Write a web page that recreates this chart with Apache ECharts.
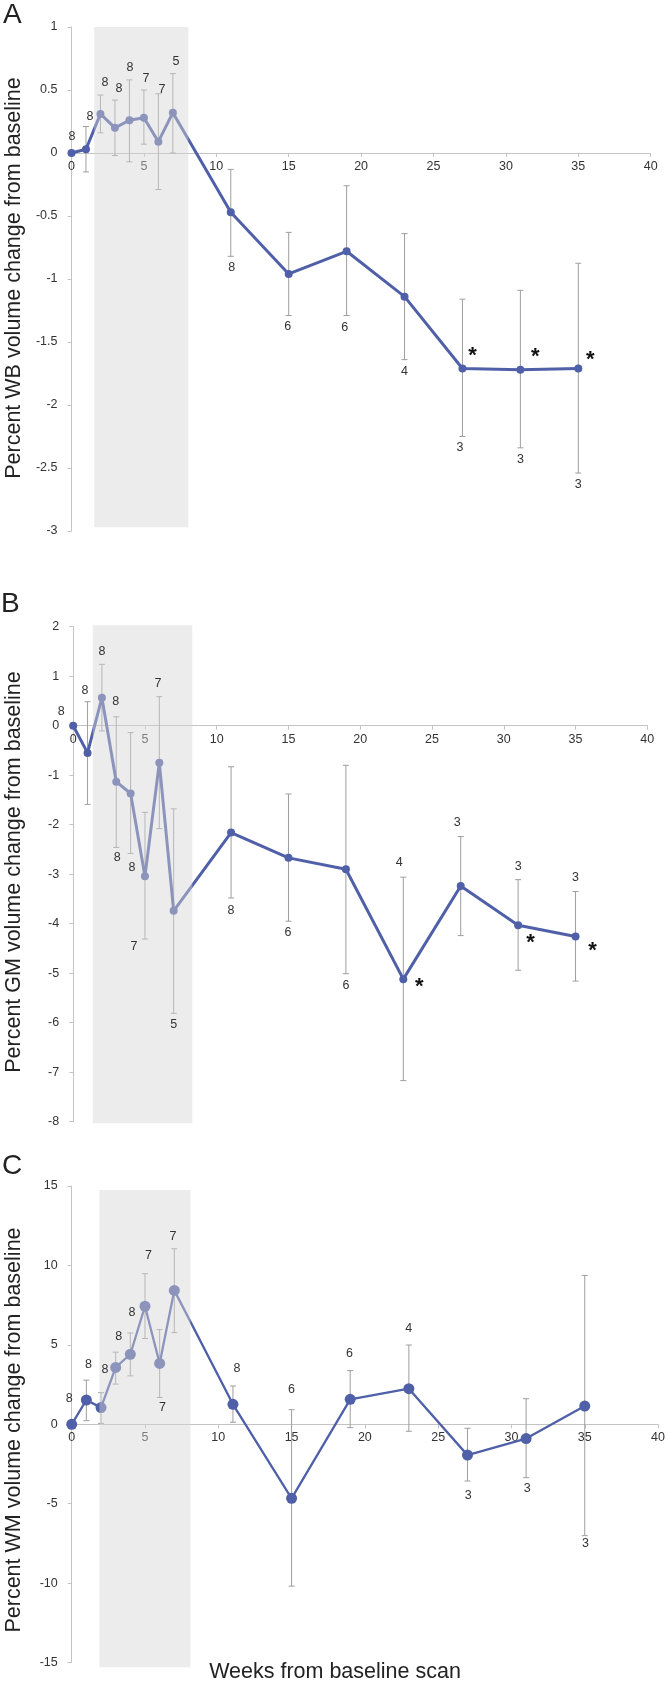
<!DOCTYPE html>
<html><head><meta charset="utf-8">
<script src="https://cdn.jsdelivr.net/npm/echarts@6/dist/echarts.min.js"></script>
<style>html,body{margin:0;padding:0;background:#fff}#c{width:668px;height:1683px}</style>
</head><body><div id="c"></div>
<script>
// ---------------- DATA ----------------
const weeks = [0, 1, 2, 3, 4, 5, 6, 7, 11, 15, 19, 23, 27, 31, 35];
const xTicks = [0, 5, 10, 15, 20, 25, 30, 35, 40];

// Panel A: whole brain
const wbMean  = [0, 0.03, 0.31, 0.20, 0.26, 0.28, 0.09, 0.32, -0.47, -0.96, -0.78, -1.14, -1.71, -1.72, -1.71];
const wbUpper = [null, 0.21, 0.46, 0.42, 0.58, 0.50, 0.47, 0.63, -0.13, -0.63, -0.26, -0.64, -1.16, -1.09, -0.875];
const wbLower = [null, -0.15, 0.16, -0.02, -0.07, 0.07, -0.29, 0.00, -0.82, -1.29, -1.29, -1.64, -2.25, -2.34, -2.54];
const wbN     = [8, 8, 8, 8, 8, 7, 7, 5, 8, 6, 6, 4, 3, 3, 3];
const wbSig   = [27, 31, 35];
const wbYTicks = [-3, -2.5, -2, -1.5, -1, -0.5, 0, 0.5, 1];
const wbShade = [1.57, 8.07, 1, -2.97];

// Panel B: grey matter
const gmMean  = [0, -0.55, 0.566, -1.13, -1.37, -3.04, -0.75, -3.74, -2.16, -2.67, -2.90, -5.12, -3.24, -4.03, -4.26];
const gmUpper = [null, 0.485, 1.24, 0.18, -0.14, -1.75, 0.586, -1.68, -0.83, -1.38, -0.80, -3.06, -2.24, -3.11, -3.35];
const gmLower = [null, -1.59, -0.107, -2.46, -2.58, -4.31, -2.08, -5.81, -3.48, -3.95, -5.01, -7.17, -4.24, -4.94, -5.16];
const gmN     = [8, 8, 8, 8, 8, 7, 7, 5, 8, 6, 6, 4, 3, 3, 3];
const gmSig   = [23, 31, 35];
const gmYTicks = [-8, -7, -6, -5, -4, -3, -2, -1, 0, 1, 2];
const gmShade = [1.37, 8.3, 2.03, -8.03];

// Panel C: white matter
const wmMean  = [0, 1.53, 1.05, 3.58, 4.41, 7.43, 3.83, 8.43, 1.26, -4.66, 1.57, 2.24, -1.94, -0.90, 1.15];
const wmUpper = [null, 2.78, 1.99, 4.54, 5.75, 9.48, 5.96, 11.05, 2.41, 0.92, 3.38, 4.99, -0.25, 1.61, 9.37];
const wmLower = [null, 0.23, 0.06, 2.53, 3.05, 5.40, 1.69, 5.77, 0.13, -10.19, -0.21, -0.44, -3.57, -3.36, -7.01];
const wmN     = [8, 8, 8, 8, 8, 7, 7, 7, 8, 6, 6, 4, 3, 3, 3];
const wmSig   = [];
const wmYTicks = [-15, -10, -5, 0, 5, 10, 15];
const wmShade = [1.89, 8.1, 14.75, -15.3];

const panelLetters = ['A', 'B', 'C'];
const yTitles = ['Percent WB volume change from baseline', 'Percent GM volume change from baseline', 'Percent WM volume change from baseline'];
const xTitle = 'Weeks from baseline scan';

// ---------------- LAYOUT ----------------
const FONT = "'Liberation Sans', Arial, Helvetica, sans-serif";
// label placement: [point index, anchor (p=point, h=upper bar end, l=lower bar end), dx, dy]
const labelsA = [[0,'p',0.5,-16],[1,'h',4,-10],[2,'h',4.5,-12],[3,'h',4,-12],[4,'h',0.6,-12],[5,'h',2,-11],[6,'h',3.6,-4],[7,'h',3,-11.6],
  [8,'l',1,11],[9,'l',-1,11],[10,'l',-2,12],[11,'l',0,11.7],[12,'l',-2.5,11],[13,'l',0,11.7],[14,'l',0,11.3]];
const labelsB = [[0,'p',-12,-14],[1,'h',-2.5,-11],[2,'h',0,-13],[3,'h',-0.5,-15],[3,'l',1,10],[4,'l',1.4,14],[5,'l',-11,8],[6,'h',-1.3,-13.4],[7,'l',0,11],
  [8,'l',0,13],[9,'l',-0.5,11.5],[10,'l',0,12],[11,'h',-4,-14.5],[12,'h',-3.6,-14],[13,'h',0,-13],[14,'h',0,-14]];
const labelsC = [[0,'p',-2.4,-26],[1,'h',2,-16],[2,'h',4,-22.7],[3,'h',3,-15.5],[4,'h',1.7,-20.6],[5,'h',3.4,-17.7],[6,'l',2.7,10],[7,'h',-1.4,-12.7],
  [8,'h',4,-17],[9,'h',0,-20],[10,'h',-0.7,-16.6],[11,'h',0,-16.7],[12,'l',0.7,14.7],[13,'l',1,10.6],[14,'l',0.7,8.3]];
const sigOffA = [[10,-17],[15,-18],[12,-13]];
const sigOffB = [[16,3],[12.5,13],[17,10]];

const panels = [
  {mean: wbMean, upper: wbUpper, lower: wbLower, n: wbN, sig: wbSig, yTicks: wbYTicks, shade: wbShade,
   grid: {left: 71.5, top: 27, width: 579.2, height: 504}, sym: 8, lw: 3, labels: labelsA, sigOff: sigOffA,
   letter: [3, 15.5], title: [14, 278, 21.5]},
  {mean: gmMean, upper: gmUpper, lower: gmLower, n: gmN, sig: gmSig, yTicks: gmYTicks, shade: gmShade,
   grid: {left: 73.2, top: 626.7, width: 574.1, height: 495}, sym: 8, lw: 3, labels: labelsB, sigOff: sigOffB,
   letter: [1, 604.5], title: [14, 872, 21.5]},
  {mean: wmMean, upper: wmUpper, lower: wmLower, n: wmN, sig: wmSig, yTicks: wmYTicks, shade: wmShade,
   grid: {left: 71.7, top: 1186, width: 588, height: 476.6}, sym: 11, lw: 2.3, labels: labelsC, sigOff: [],
   letter: [2, 1166], title: [14, 1430, 21.5]}
];

const LINE = '#5060a8';
const BAR = '#9e9e9e';
const AXIS = '#c4c4c4';
const TXT = '#333';

const grids = [], xAxes = [], yAxes = [], series = [], graphics = [];
panels.forEach((P, k) => {
  grids.push(Object.assign({containLabel: false}, P.grid));
  const yMin = P.yTicks[0], yMax = P.yTicks[P.yTicks.length - 1];
  // place the x axis on the y = 0 line
  const zeroOffset = -P.grid.height * (0 - yMin) / (yMax - yMin);
  xAxes.push({
    gridIndex: k, type: 'value', min: xTicks[0], max: xTicks[xTicks.length - 1], interval: xTicks[1] - xTicks[0],
    position: 'bottom', offset: zeroOffset,
    axisLine: {show: true, onZero: false, lineStyle: {color: AXIS, width: 1}},
    axisTick: {show: true, length: 4, lineStyle: {color: AXIS}},
    axisLabel: {color: TXT, fontSize: 12.5, fontFamily: FONT, margin: 7, showMinLabel: true, showMaxLabel: true},
    splitLine: {show: false}
  });
  yAxes.push({
    gridIndex: k, type: 'value', min: yMin, max: yMax, interval: P.yTicks[1] - P.yTicks[0],
    axisLine: {show: true, onZero: false, lineStyle: {color: AXIS, width: 1}},
    axisTick: {show: true, length: 4, lineStyle: {color: AXIS}},
    axisLabel: {color: TXT, fontSize: 12.5, fontFamily: FONT, margin: 14},
    splitLine: {show: false}
  });

  const bars = [];
  weeks.forEach((w, i) => { if (P.upper[i] !== null) bars.push([w, P.lower[i], P.upper[i]]); });
  series.push({
    type: 'custom', xAxisIndex: k, yAxisIndex: k, z: 1, silent: true, data: bars,
    renderItem: (params, api) => {
      const x = api.value(0);
      const a = api.coord([x, api.value(2)]);
      const b = api.coord([x, api.value(1)]);
      const hw = 3;
      const st = {stroke: BAR, lineWidth: 1};
      return {type: 'group', children: [
        {type: 'line', shape: {x1: a[0], y1: a[1], x2: b[0], y2: b[1]}, style: st},
        {type: 'line', shape: {x1: a[0] - hw, y1: a[1], x2: a[0] + hw, y2: a[1]}, style: st},
        {type: 'line', shape: {x1: b[0] - hw, y1: b[1], x2: b[0] + hw, y2: b[1]}, style: st}
      ]};
    }
  });
  series.push({
    type: 'line', xAxisIndex: k, yAxisIndex: k, z: 2, silent: true,
    data: weeks.map((w, i) => [w, P.mean[i]]),
    symbol: 'circle', symbolSize: P.sym, showSymbol: true,
    lineStyle: {color: LINE, width: P.lw}, itemStyle: {color: LINE, borderWidth: 0}
  });
  series.push({
    type: 'custom', xAxisIndex: k, yAxisIndex: k, z: 3, silent: true, clip: false,
    data: [P.shade],
    renderItem: (params, api) => {
      const a = api.coord([api.value(0), api.value(2)]);
      const b = api.coord([api.value(1), api.value(3)]);
      return {type: 'rect', shape: {x: a[0], y: a[1], width: b[0] - a[0], height: b[1] - a[1]},
        style: {fill: 'rgba(212,212,212,0.45)'}};
    }
  });
  series.push({
    type: 'custom', xAxisIndex: k, yAxisIndex: k, z: 4, silent: true, clip: false,
    data: P.labels.map(L => [weeks[L[0]], P.mean[L[0]]]),
    renderItem: (params, api) => {
      const L = P.labels[params.dataIndex];
      const i = L[0];
      const v = L[1] === 'h' ? P.upper[i] : (L[1] === 'l' ? P.lower[i] : P.mean[i]);
      const p = api.coord([weeks[i], v]);
      return {type: 'text', x: p[0] + L[2], y: p[1] + L[3],
        style: {text: String(P.n[i]), fill: TXT, fontSize: 12.5, fontFamily: FONT, align: 'center', verticalAlign: 'middle'}};
    }
  });
  if (P.sig.length) {
    series.push({
      type: 'custom', xAxisIndex: k, yAxisIndex: k, z: 4, silent: true, clip: false,
      data: P.sig.map(w => [w, P.mean[weeks.indexOf(w)]]),
      renderItem: (params, api) => {
        const o = P.sigOff[params.dataIndex];
        const p = api.coord([api.value(0), api.value(1)]);
        const fs = 22;
        return {type: 'text', x: p[0] + o[0], y: p[1] + o[1] + 0.22 * fs,
          style: {text: '*', fill: '#111', fontSize: fs, fontWeight: 'bold', fontFamily: FONT, align: 'center', verticalAlign: 'middle'}};
      }
    });
  }
  graphics.push({type: 'text', x: P.letter[0], y: P.letter[1], silent: true,
    style: {text: panelLetters[k], fontSize: 28, fontFamily: FONT, fill: '#222', align: 'left', verticalAlign: 'middle'}});
  graphics.push({type: 'text', x: P.title[0], y: P.title[1], rotation: Math.PI / 2, silent: true,
    style: {text: yTitles[k], fontSize: P.title[2], fontFamily: FONT, fill: '#222', align: 'center', verticalAlign: 'middle'}});
});
graphics.push({type: 'text', x: 335, y: 1672, silent: true,
  style: {text: xTitle, fontSize: 21.5, fontFamily: FONT, fill: '#222', align: 'center', verticalAlign: 'middle'}});

const chart = echarts.init(document.getElementById('c'), null, {renderer: 'canvas', width: 668, height: 1683});
chart.setOption({
  animation: false,
  backgroundColor: '#fff',
  grid: grids, xAxis: xAxes, yAxis: yAxes, series: series, graphic: graphics
});
</script>
</body></html>
